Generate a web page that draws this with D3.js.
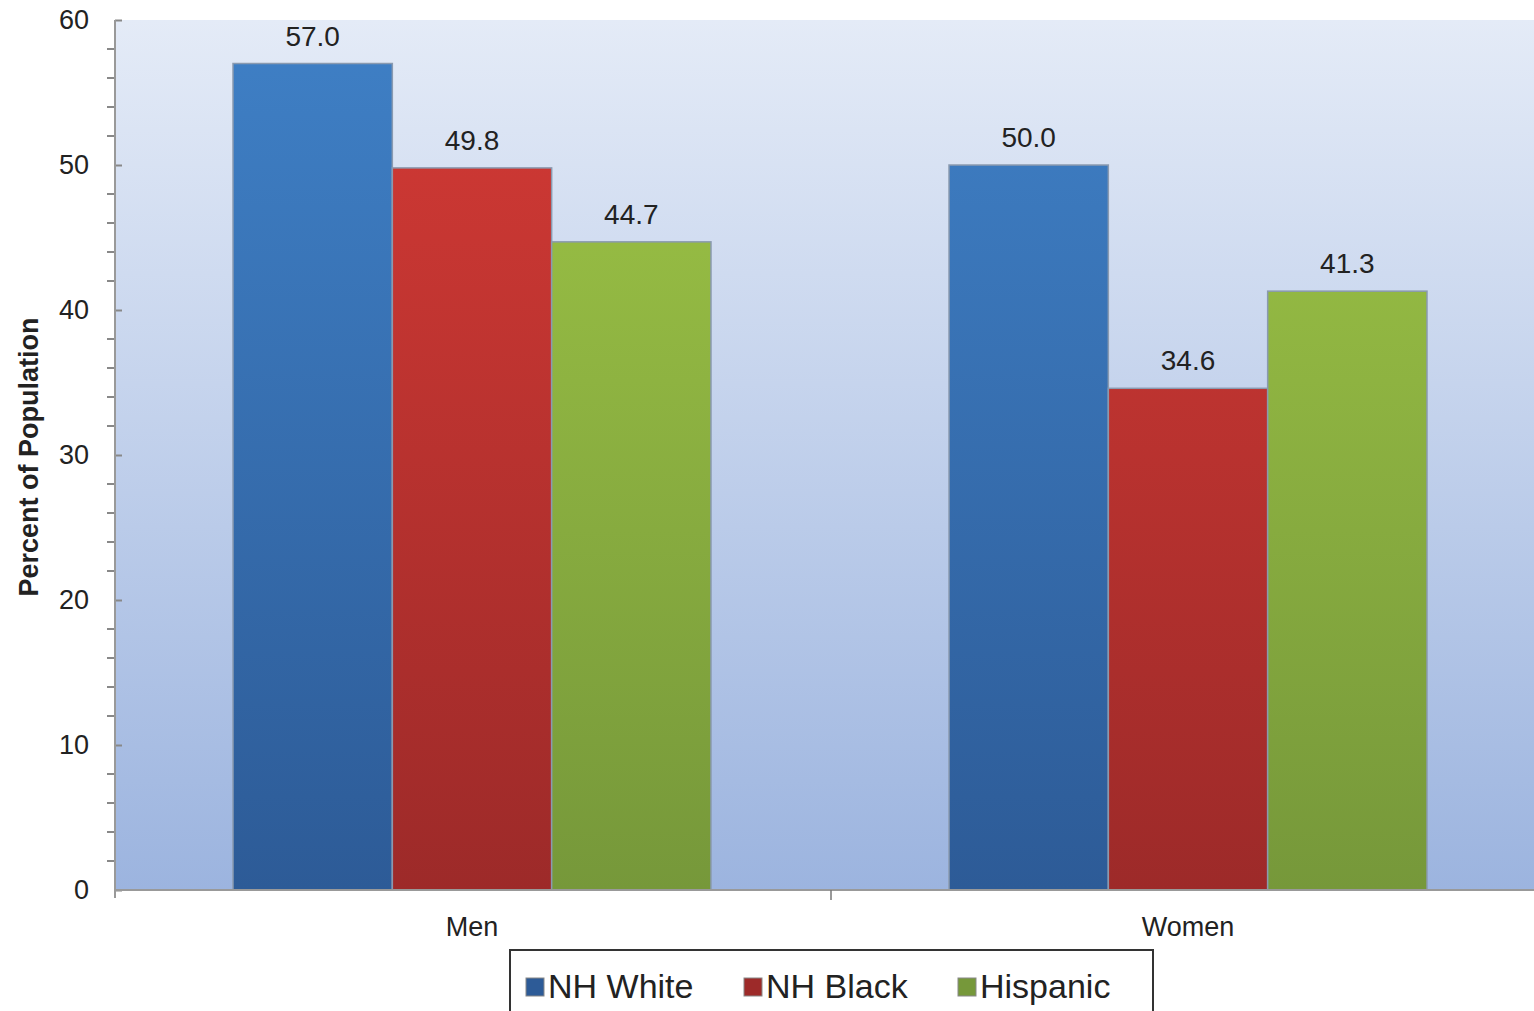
<!DOCTYPE html>
<html lang="en">
<head>
<meta charset="UTF-8" />
<title>Percent of Population</title>
<style>
  html, body { margin: 0; padding: 0; background: #fff; overflow: hidden; }
  svg { font-family: "Liberation Sans", Arial, sans-serif; }
  .tick text { font-size: 27px; fill: #222; }
</style>
</head>
<body>
<svg width="1534" height="1011"></svg>
<script src="https://d3js.org/d3.v7.min.js"></script>
<script>
const groups = ["Men", "Women"];
const series = ["NH White", "NH Black", "Hispanic"];
const values = [
  [57.0, 49.8, 44.7],
  [50.0, 34.6, 41.3]
];
const yTicks = [0, 10, 20, 30, 40, 50, 60];
const colors = {
  "NH White": ["#3f80c6", "#2d5b97"],
  "NH Black": ["#d43a35", "#9d2a29"],
  "Hispanic": ["#9fc646", "#76983a"]
};

const svg = d3.select("svg");
const pLeft = 115, pRight = 1534, pTop = 20, pBottom = 890;

const x0 = d3.scaleBand().domain(groups).range([pLeft, 1547]);
const x1 = d3.scaleBand().domain(series).range([118, 118 + 478]);
const y = d3.scaleLinear().domain([0, 60]).range([pBottom, pTop]);

const defs = svg.append("defs");
const bg = defs.append("linearGradient").attr("id", "bg").attr("x1", 0).attr("y1", 0).attr("x2", 0).attr("y2", 1);
bg.append("stop").attr("offset", 0).attr("stop-color", "#e4ebf7");
bg.append("stop").attr("offset", 1).attr("stop-color", "#9cb4df");
series.forEach((s, i) => {
  const g = defs.append("linearGradient").attr("id", "g" + i)
    .attr("gradientUnits", "userSpaceOnUse")
    .attr("x1", 0).attr("y1", pTop).attr("x2", 0).attr("y2", pBottom);
  g.append("stop").attr("offset", 0).attr("stop-color", colors[s][0]);
  g.append("stop").attr("offset", 1).attr("stop-color", colors[s][1]);
});

svg.append("rect").attr("x", pLeft).attr("y", pTop)
  .attr("width", pRight - pLeft).attr("height", pBottom - pTop).attr("fill", "url(#bg)");

groups.forEach((grp, gi) => {
  const g = svg.append("g").attr("transform", `translate(${x0(grp)},0)`);
  g.selectAll("rect").data(values[gi]).join("rect")
    .attr("x", (d, i) => x1(series[i]))
    .attr("y", d => y(d))
    .attr("width", x1.bandwidth())
    .attr("height", d => y(0) - y(d))
    .attr("fill", (d, i) => `url(#g${i})`)
    .attr("stroke", "#8a9ab0").attr("stroke-width", 1.5);
  g.selectAll("text").data(values[gi]).join("text")
    .attr("x", (d, i) => x1(series[i]) + x1.bandwidth() / 2)
    .attr("y", d => y(d) - 18)
    .attr("text-anchor", "middle")
    .attr("font-size", 28).attr("fill", "#222")
    .text(d => d.toFixed(1));
});

// y axis
const yAxis = svg.append("g").attr("transform", `translate(${pLeft},0)`)
  .call(d3.axisLeft(y).tickValues(yTicks).tickSize(12).tickPadding(14));
yAxis.selectAll(".tick line").attr("stroke", "#888").attr("stroke-width", 2).attr("x2", 7);
yAxis.select(".domain").remove();
svg.append("g").attr("transform", `translate(${pLeft},0)`)
  .selectAll("line").data(d3.range(0, 61, 2).filter(v => v % 10)).join("line")
  .attr("x1", -8).attr("x2", 0).attr("y1", d => y(d)).attr("y2", d => y(d))
  .attr("stroke", "#888").attr("stroke-width", 2);
svg.append("line").attr("x1", pLeft).attr("x2", pLeft).attr("y1", pTop).attr("y2", pBottom + 8)
  .attr("stroke", "#999").attr("stroke-width", 2);

// x axis
svg.append("line").attr("x1", pLeft).attr("x2", pRight).attr("y1", pBottom).attr("y2", pBottom)
  .attr("stroke", "#999").attr("stroke-width", 2);
svg.append("line").attr("x1", x0("Women")).attr("x2", x0("Women"))
  .attr("y1", pBottom).attr("y2", pBottom + 10).attr("stroke", "#777").attr("stroke-width", 1.5);
svg.selectAll(".xl").data(groups).join("text")
  .attr("x", d => x0(d) + 118 + 239).attr("y", 936)
  .attr("text-anchor", "middle").attr("font-size", 27).attr("fill", "#222")
  .text(d => d);

svg.append("text")
  .attr("transform", `translate(38,${(pTop + pBottom) / 2 + 2}) rotate(-90)`)
  .attr("text-anchor", "middle").attr("font-size", 27).attr("font-weight", "bold").attr("fill", "#222")
  .text("Percent of Population");

// legend
svg.append("rect").attr("x", 510).attr("y", 950).attr("width", 643).attr("height", 80)
  .attr("fill", "#fff").attr("stroke", "#333").attr("stroke-width", 2);
const legX = [526, 744, 958];
series.forEach((s, i) => {
  svg.append("rect").attr("x", legX[i]).attr("y", 978).attr("width", 18).attr("height", 18)
    .attr("fill", `url(#g${i})`).attr("stroke", "#888");
  svg.append("text").attr("x", legX[i] + 22).attr("y", 998)
    .attr("font-size", 34).attr("fill", "#222").text(s);
});
</script>
</body>
</html>
